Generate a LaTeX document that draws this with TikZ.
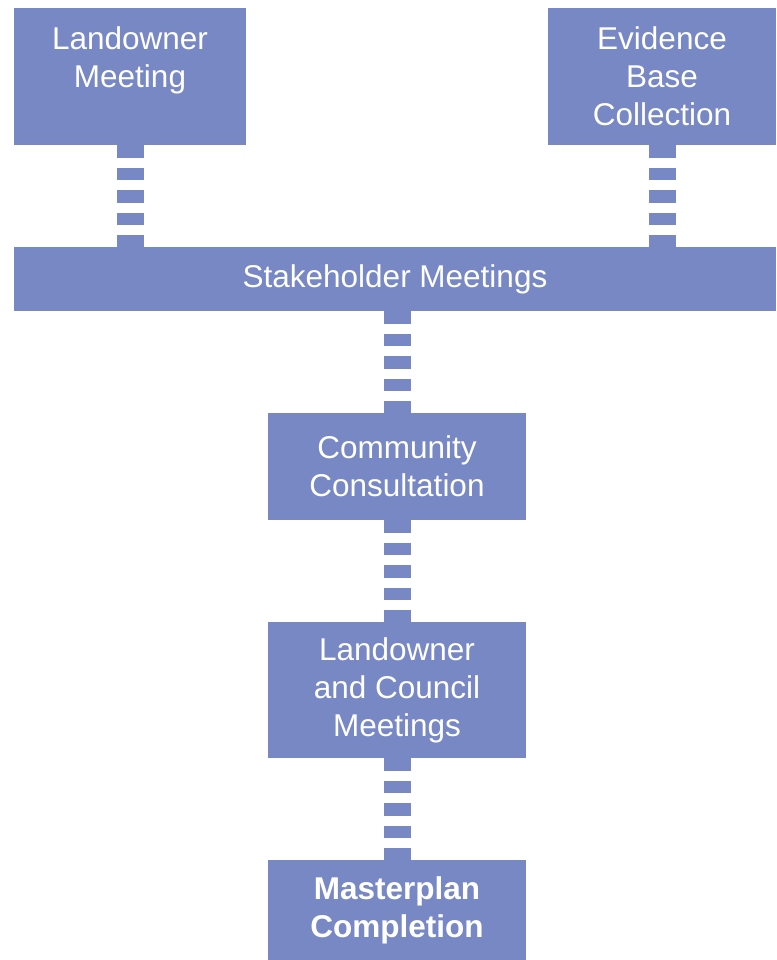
\documentclass[tikz,border=0pt]{standalone}
\usepackage{fontspec}
\setmainfont{Liberation Sans}
\usetikzlibrary{positioning}
\definecolor{planblue}{RGB}{119,136,196}
\tikzset{
  stage/.style={fill=planblue, text=white, align=center, inner sep=0pt, font=\fontsize{31.5}{38}\selectfont},
  link/.style={planblue, line width=27pt, dash pattern=on 12.5pt off 10pt}
}

\begin{document}
\begin{tikzpicture}[x=1pt,y=-1pt]
			\useasboundingbox (0,0) rectangle (776,960);
			\node[stage, minimum width=232pt, minimum height=137pt] (landmeet) at (130,76.5) {Landowner\\Meeting\\~};
			\node[stage, minimum width=228pt, minimum height=137pt] (evidence) at (662,76.5) {Evidence\\Base\\Collection};
			\node[stage, minimum width=762pt, minimum height=64pt] (stake) at (395,279) {Stakeholder Meetings};
			\node[stage, minimum width=258pt, minimum height=107pt] (community) at (397,466.5) {Community\\Consultation};
			\node[stage, minimum width=258pt, minimum height=136pt] (council) at (397,690) {Landowner\\and Council\\Meetings};
			\node[stage, minimum width=258pt, minimum height=100pt, font=\bfseries\fontsize{31.5}{38}\selectfont] (master) at (397,910) {Masterplan\\Completion};
			
			\draw[link] (landmeet.south) -- (landmeet.south |- stake.north);
			\draw[link] (evidence.south) -- (evidence.south |- stake.north);
			\draw[link] (stake.south -| community.north) -- (community.north);
			\draw[link] (community.south) -- (council.north);
			\draw[link] (council.south) -- (master.north);
		\end{tikzpicture}
\end{document}
